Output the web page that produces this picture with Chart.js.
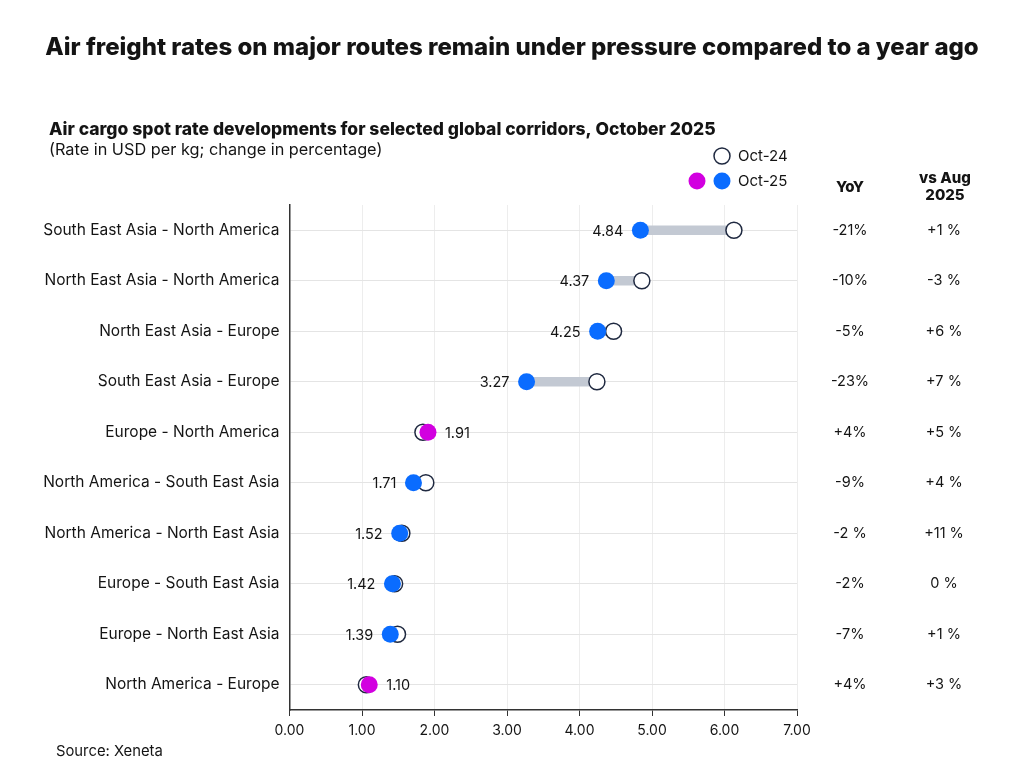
<!DOCTYPE html>
<html>
<head>
<meta charset="utf-8">
<script src="https://cdn.jsdelivr.net/npm/chart.js@4.4.1/dist/chart.umd.min.js"></script>
<style>
  body { margin: 0; background: #fff; }
  #wrap { width: 1024px; height: 768px; position: relative; }
</style>
</head>
<body>
<div id="wrap"><canvas id="chart"></canvas></div>
<script>
const categories = [
    'South East Asia - North America',
    'North East Asia - North America',
    'North East Asia - Europe',
    'South East Asia - Europe',
    'Europe - North America',
    'North America - South East Asia',
    'North America - North East Asia',
    'Europe - South East Asia',
    'Europe - North East Asia',
    'North America - Europe'
]
const oct24 = [6.13, 4.86, 4.47, 4.24, 1.84, 1.88, 1.55, 1.45, 1.49, 1.06]
const oct25 = [4.84, 4.37, 4.25, 3.27, 1.91, 1.71, 1.52, 1.42, 1.39, 1.10]
const yoy = ['-21%', '-10%', '-5%', '-23%', '+4%', '-9%', '-2 %', '-2%', '-7%', '+4%']
const vsAug = ['+1 %', '-3 %', '+6 %', '+7 %', '+5 %', '+4 %', '+11 %', '0 %', '+1 %', '+3 %']

const FONT = 'Inter, "Open Sans", sans-serif'
const BLUE = '#0a6cff'
const MAGENTA = '#d200e0'
const INK = '#141414'

// magenta when the rate went up against last year
const upColors = oct25.map((v, i) => v > oct24[i] ? MAGENTA : BLUE)

const extraText = {
    id: 'extraText',
    afterDraw(chart) {
        const c = chart.ctx
        const y = chart.scales.y
        c.save()
        c.fillStyle = INK
        c.textBaseline = 'middle'

        c.font = '800 24px ' + FONT
        c.textAlign = 'center'
        c.fillText('Air freight rates on major routes remain under pressure compared to a year ago', 512, 48)

        c.textAlign = 'left'
        c.font = '800 17.5px ' + FONT
        c.fillText('Air cargo spot rate developments for selected global corridors, October 2025', 49, 130)
        c.font = '400 16.3px ' + FONT
        c.fillText('(Rate in USD per kg; change in percentage)', 49, 150)
        c.font = '400 14.8px ' + FONT
        c.fillText('Source: Xeneta', 56, 752)

        // legend
        c.beginPath()
        c.arc(722, 156, 8, 0, Math.PI * 2)
        c.fillStyle = '#fff'
        c.fill()
        c.lineWidth = 1.5
        c.strokeStyle = '#1f2940'
        c.stroke()
        c.beginPath()
        c.arc(697, 181, 8.5, 0, Math.PI * 2)
        c.fillStyle = MAGENTA
        c.fill()
        c.beginPath()
        c.arc(722, 181, 8.5, 0, Math.PI * 2)
        c.fillStyle = BLUE
        c.fill()
        c.fillStyle = INK
        c.font = '400 15px ' + FONT
        c.fillText('Oct-24', 738, 156)
        c.fillText('Oct-25', 738, 181)

        // side columns
        c.textAlign = 'center'
        c.font = '800 15px ' + FONT
        c.fillText('YoY', 850, 187)
        c.fillText('vs Aug', 945, 178)
        c.fillText('2025', 945, 195)
        c.font = '400 14.5px ' + FONT
        categories.forEach((cat, i) => {
            const py = y.getPixelForValue(i)
            c.fillText(yoy[i], 850, py)
            c.fillText(vsAug[i], 944, py)
        })

        // value labels next to Oct-25 points
        const meta = chart.getDatasetMeta(0)
        meta.data.forEach((pt, i) => {
            const up = oct25[i] > oct24[i]
            c.textAlign = up ? 'left' : 'right'
            c.fillText(oct25[i].toFixed(2), pt.x + (up ? 17 : -17), pt.y + 1)
        })
        c.restore()
    }
}

var ctx = document.getElementById('chart').getContext('2d')
var chart = new Chart(ctx, {
    type: 'bar',
    data: {
        labels: categories,
        datasets: [{
            type: 'line',
            label: 'Oct-25',
            data: oct25,
            indexAxis: 'y',
            showLine: false,
            pointRadius: 8.5,
            pointHoverRadius: 8.5,
            pointBackgroundColor: upColors,
            pointBorderWidth: 0,
            order: 0
        }, {
            type: 'line',
            label: 'Oct-24',
            data: oct24,
            indexAxis: 'y',
            showLine: false,
            pointRadius: 8,
            pointHoverRadius: 8,
            pointBackgroundColor: '#fff',
            pointBorderColor: '#1f2940',
            pointBorderWidth: 1.5,
            order: 1
        }, {
            type: 'bar',
            label: 'gap',
            data: oct25.map((v, i) => [v, oct24[i]]),
            backgroundColor: '#c3c9d3',
            barThickness: 9,
            order: 2
        }]
    },
    options: {
        indexAxis: 'y',
        responsive: true,
        maintainAspectRatio: false,
        animation: false,
        layout: { padding: { top: 205, right: 227, left: 0, bottom: 0 } },
        plugins: {
            legend: { display: false },
            tooltip: { enabled: false }
        },
        scales: {
            x: {
                type: 'linear',
                min: 0,
                max: 7,
                ticks: {
                    stepSize: 1,
                    callback: v => v.toFixed(2),
                    font: { family: FONT, size: 14 },
                    color: INK,
                    padding: 6
                },
                grid: { color: '#ededed', tickColor: '#333', tickLength: 6 },
                border: { color: '#333', width: 1.5 },
                afterFit: s => { s.height = 58 }
            },
            y: {
                type: 'category',
                grid: { offset: false, color: '#e4e4e4', drawTicks: false },
                ticks: {
                    font: { family: FONT, size: 15.5 },
                    color: INK,
                    padding: 10
                },
                border: { color: '#333', width: 1.5 },
                afterFit: s => { s.width = 289.5 }
            }
        }
    },
    plugins: [extraText]
})
</script>
</body>
</html>
